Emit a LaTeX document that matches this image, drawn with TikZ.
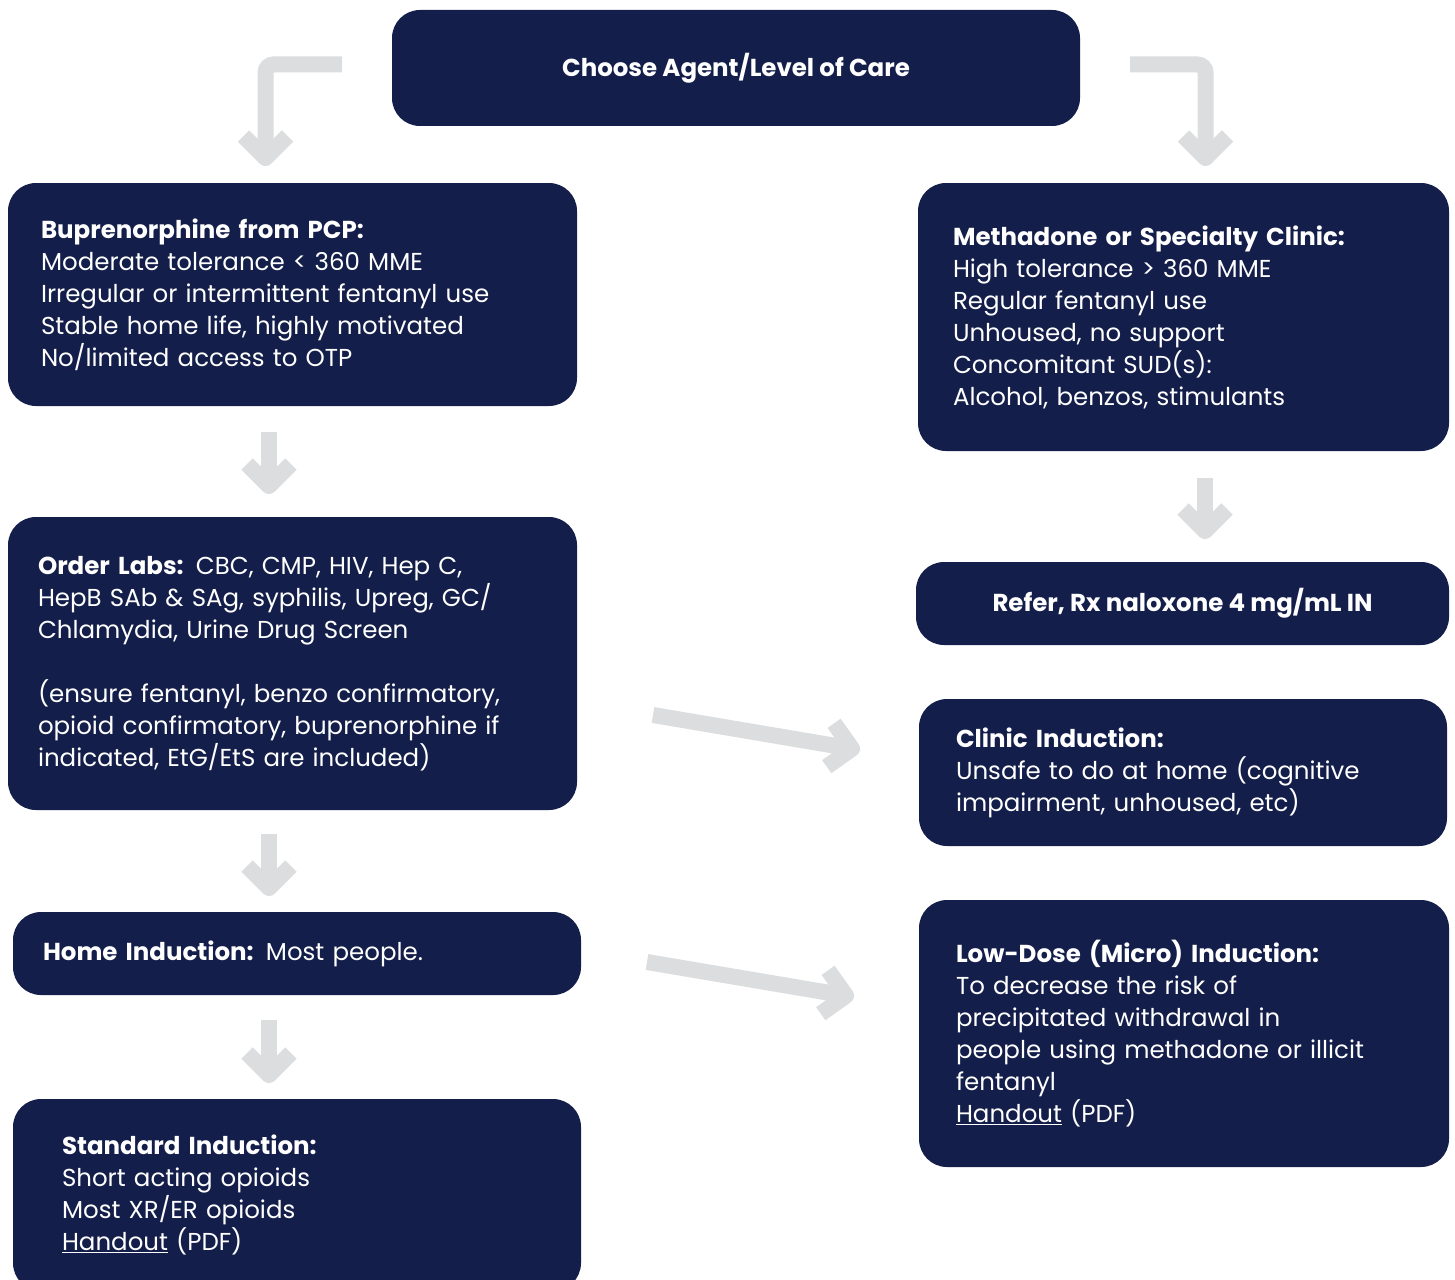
\documentclass[tikz,border=0pt]{standalone}
\usepackage{fontspec}
\setmainfont{Poppins}
\usetikzlibrary{arrows.meta}
\definecolor{navy}{HTML}{141E4A}
\definecolor{arrowgray}{HTML}{DCDDDE}

\begin{document}
\begin{tikzpicture}[x=1pt, y=-1pt,
    card/.style={fill=navy, text=white, rounded corners=28pt, align=left,
        inner ysep=0pt, font=\fontsize{24.5}{32}\selectfont},
    flow/.style={arrowgray, line width=16pt,
        -{Straight Barb[length=22pt, width=44pt, line join=round]}}]
    \useasboundingbox (0,0) rectangle (1455,1279);

    % Top decision
    \node[card, align=center, minimum width=688pt, minimum height=116pt] (choose) at (736,68)
        {\textbf{Choose Agent/Level of Care}};

    % Left column: buprenorphine path
    \node[card, minimum width=569pt, minimum height=223pt, text width=503pt, inner xsep=33pt] (bup) at (292.5,294.5)
        {\textbf{Buprenorphine from PCP:}\\
         Moderate tolerance < 360 MME\\
         Irregular or intermittent fentanyl use\\
         Stable home life, highly motivated\\
         No/limited access to OTP};
    \node[card, minimum width=569pt, minimum height=293pt, text width=509pt, inner xsep=30pt] (labs) at (292.5,663.5)
        {\textbf{Order Labs:} CBC, CMP, HIV, Hep C,\\
         HepB SAb \& SAg, syphilis, Upreg, GC/\\
         Chlamydia, Urine Drug Screen\\[32pt]
         (ensure fentanyl, benzo confirmatory,\\
         opioid confirmatory, buprenorphine if\\
         indicated, EtG/EtS are included)};
    \node[card, minimum width=568pt, minimum height=83pt, text width=508pt, inner xsep=30pt] (home) at (297,953.5)
        {\textbf{Home Induction:} Most people.};
    \node[card, minimum width=568pt, minimum height=192pt, text width=470pt, inner xsep=49pt] (std) at (297,1195)
        {\textbf{Standard Induction:}\\
         Short acting opioids\\
         Most XR/ER opioids\\
         \underline{Handout} (PDF)};

    % Right column: methadone / specialty path
    \node[card, minimum width=531pt, minimum height=268pt, text width=461pt, inner xsep=35pt] (meth) at (1183.5,317)
        {\textbf{Methadone or Specialty Clinic:}\\
         High tolerance > 360 MME\\
         Regular fentanyl use\\
         Unhoused, no support\\
         Concomitant SUD(s):\\
         Alcohol, benzos, stimulants};
    \node[card, align=center, minimum width=533pt, minimum height=83pt] (refer) at (1182.5,603.5)
        {\textbf{Refer, Rx naloxone 4 mg/mL IN}};
    \node[card, minimum width=528pt, minimum height=147pt, text width=454pt, inner xsep=37pt] (clinic) at (1183,772.5)
        {\textbf{Clinic Induction:}\\
         Unsafe to do at home (cognitive\\
         impairment, unhoused, etc)};
    \node[card, minimum width=530pt, minimum height=267pt, text width=456pt, inner xsep=37pt] (low) at (1184,1033.5)
        {\textbf{Low-Dose (Micro) Induction:}\\
         To decrease the risk of\\
         precipitated withdrawal in\\
         people using methadone or illicit\\
         fentanyl\\
         \underline{Handout} (PDF)};

    % Arrow ends
    \coordinate (elbowL) at (342,64.5);
    \coordinate (elbowR) at (1130,64.5);
    \coordinate (bupIn) at (265.5,166);
    \coordinate (methIn) at (1205.5,166);
    \coordinate (bupOut) at (269,432);
    \coordinate (labsIn) at (269,494);
    \coordinate (methOut) at (1205,478);
    \coordinate (referIn) at (1205,539);
    \coordinate (labsOut) at (269,834);
    \coordinate (homeIn) at (269,896);
    \coordinate (homeOut) at (269,1020);
    \coordinate (stdIn) at (269,1083);
    \coordinate (labsSide) at (653,715);
    \coordinate (clinicIn) at (860,750);
    \coordinate (homeSide) at (647,962);
    \coordinate (lowIn) at (854,997);

    % Connectors
    \draw[flow, rounded corners=8pt] (elbowL) -| (bupIn);
    \draw[flow, rounded corners=8pt] (elbowR) -| (methIn);
    \draw[flow] (bupOut) -- (labsIn);
    \draw[flow] (methOut) -- (referIn);
    \draw[flow] (labsOut) -- (homeIn);
    \draw[flow] (homeOut) -- (stdIn);
    \draw[flow] (labsSide) -- (clinicIn);
    \draw[flow] (homeSide) -- (lowIn);
\end{tikzpicture}
\end{document}
